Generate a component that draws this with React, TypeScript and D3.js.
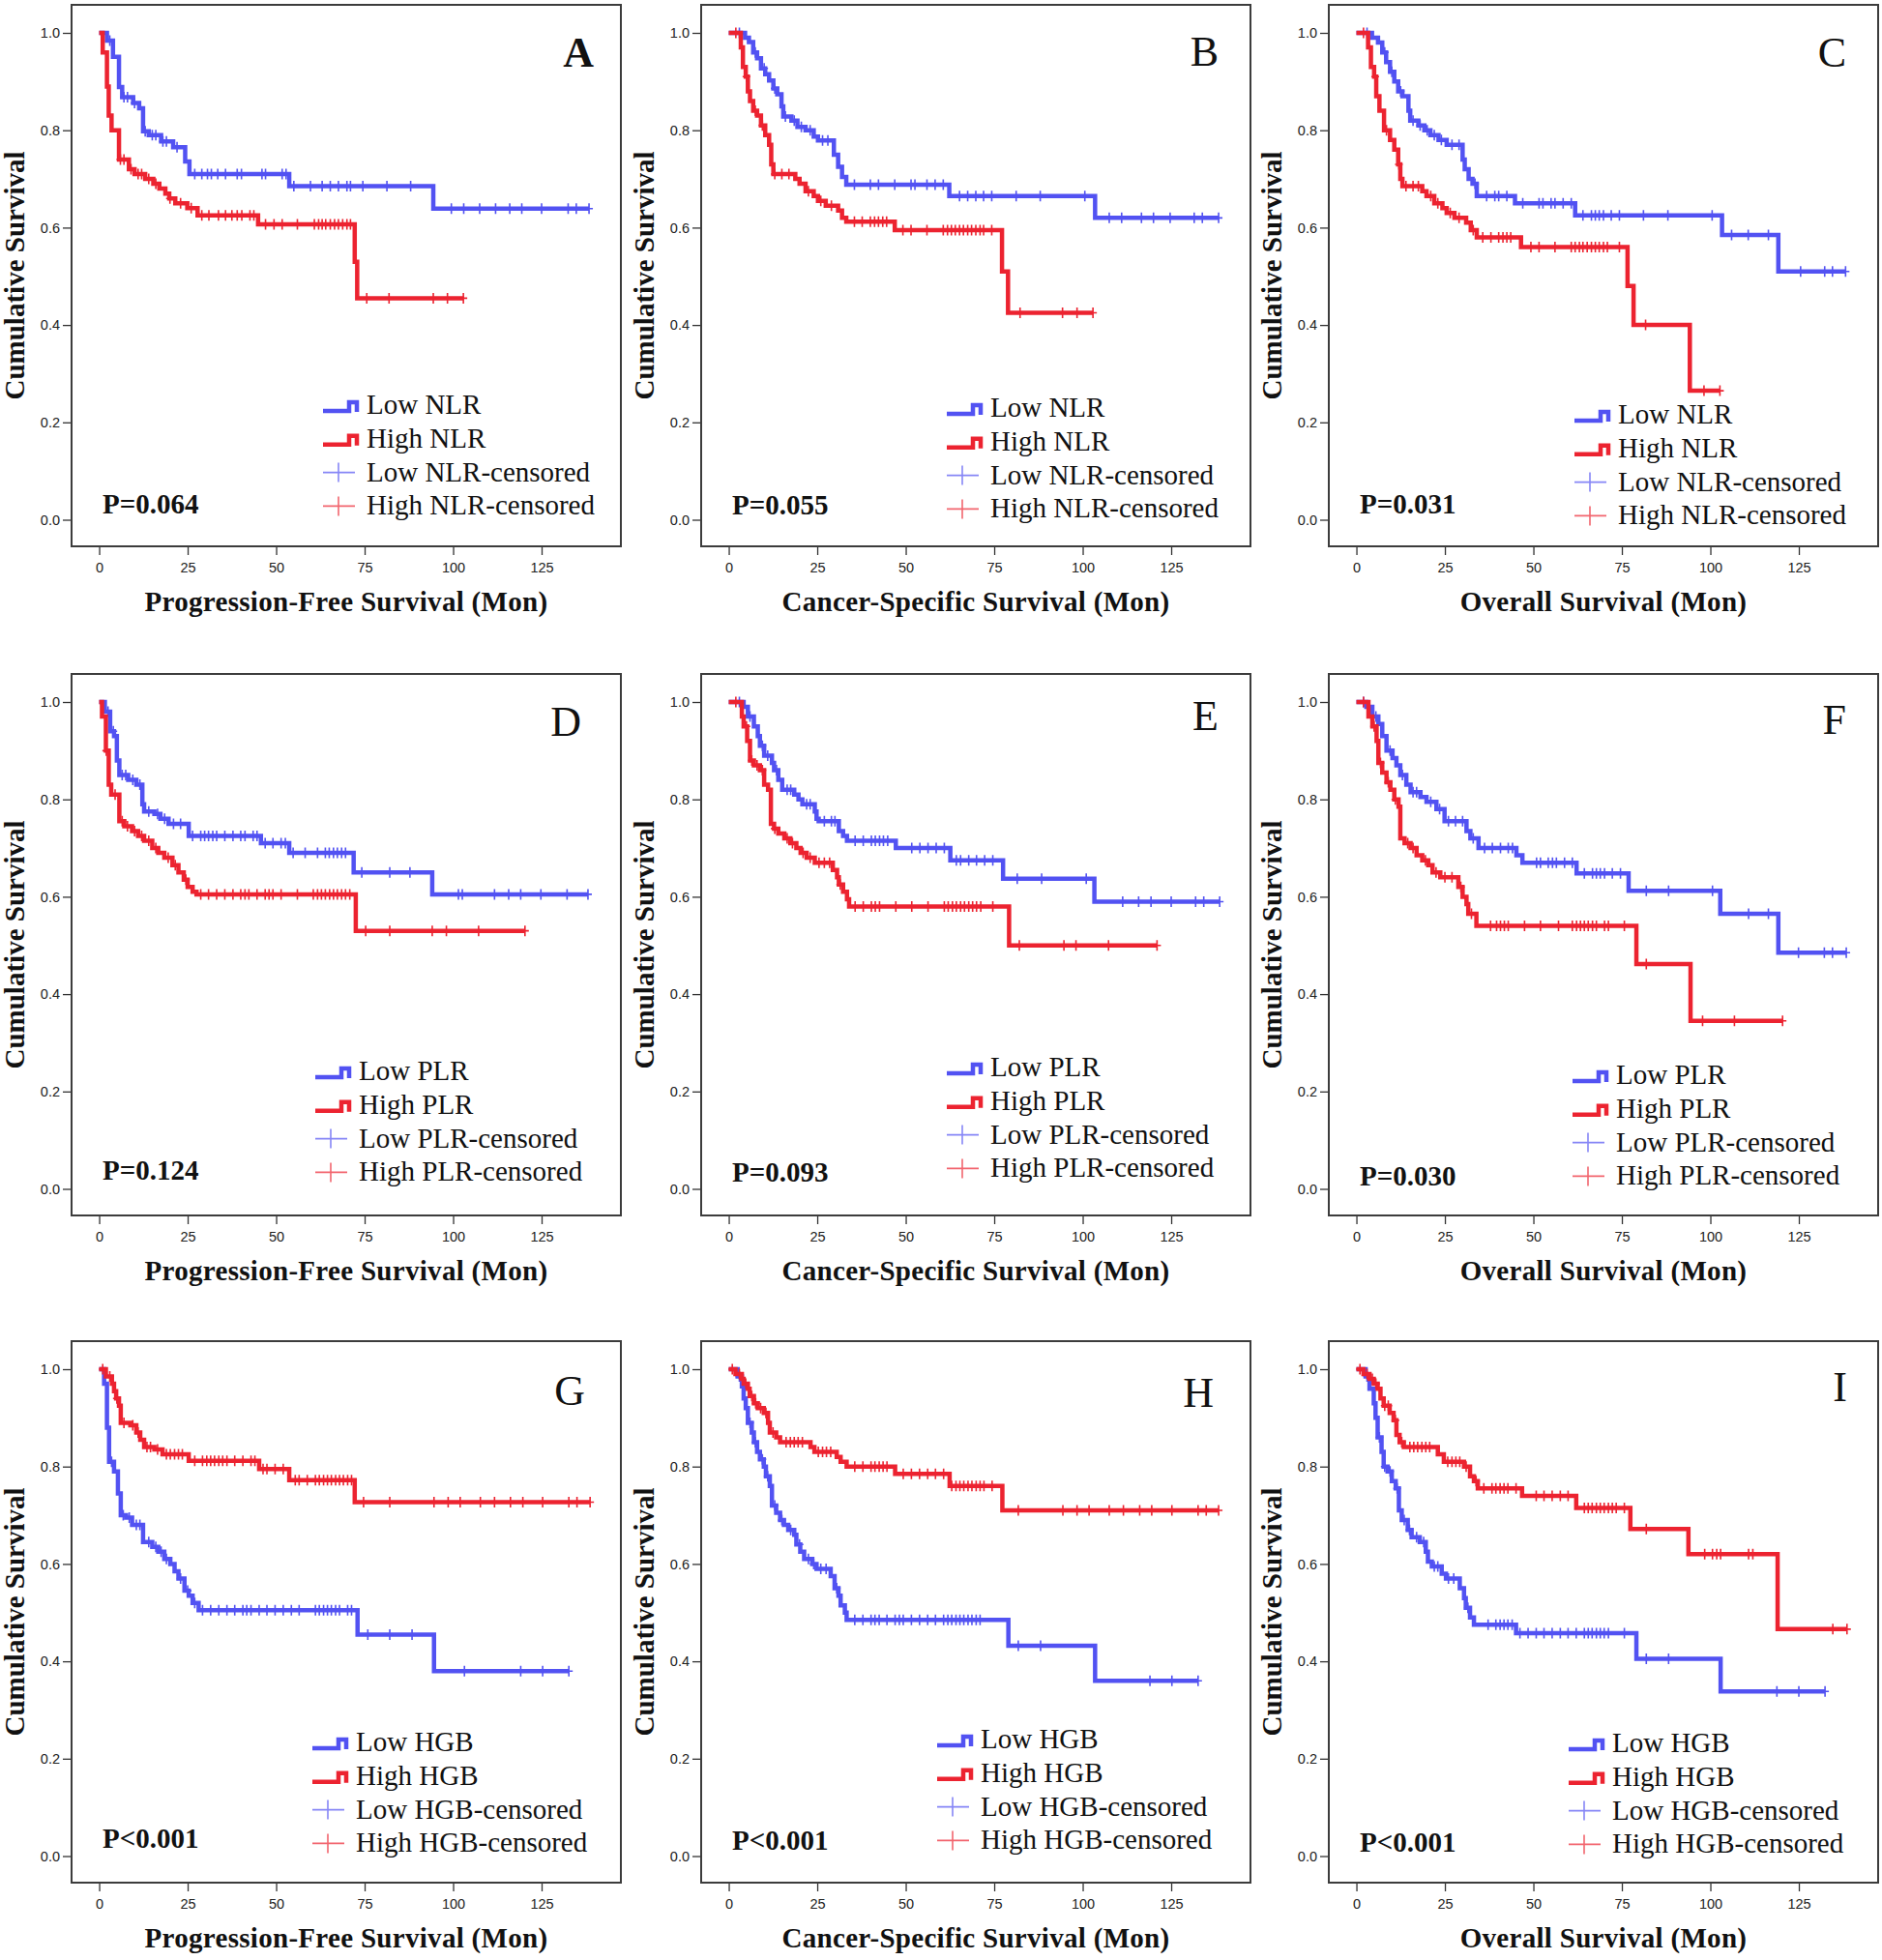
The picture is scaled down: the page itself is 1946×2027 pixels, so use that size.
import * as d3 from 'd3';
import React, { useEffect, useRef } from 'react';

type Step = [number, number];

const WIDTH = 1946;
const HEIGHT = 2027;
const COL_X = [74, 725, 1374];
const ROW_Y = [5, 697, 1387];
const PLOT_W = 568;
const PLOT_H = 560;
const BLUE = '#5252f2';
const RED = '#ec2330';
const SERIF = '"Liberation Serif", "Times New Roman", serif';
const SANS = '"Liberation Sans", Arial, sans-serif';

// small per-panel layout nudges (legend / p-value / letter)
const LEGEND_DX = [2, -4, -4, -6, -4, -6, -9, -14, -10];
const LEGEND_DY = [3, 6, 13, 0, -4, 4, 4, 1, 5];
const P_DY = [3, 4, 3, 0, 2, 6, 1, 3, 5];
const LETTER_DX = [-28, -33, -33, -41, -33, -33, -37, -38, -32];
const LETTER_Y = [64, 63, 64, 64, 58, 62, 66, 68, 62];

const X_TITLES = ['Progression-Free Survival (Mon)', 'Cancer-Specific Survival (Mon)', 'Overall Survival (Mon)'];
const MARKERS = ['NLR', 'PLR', 'HGB'];
const LETTERS = ['A', 'B', 'C', 'D', 'E', 'F', 'G', 'H', 'I'];
const P_VALUES = ['P=0.064', 'P=0.055', 'P=0.031', 'P=0.124', 'P=0.093', 'P=0.030', 'P<0.001', 'P<0.001', 'P<0.001'];
const X_TICKS = [0, 25, 50, 75, 100, 125];
const Y_TICKS = [0, 0.2, 0.4, 0.6, 0.8, 1.0];

// step curves: [month, survival after the drop]; censored: months (last one = end of follow-up)
const aLow: Step[] = [[0, 1], [2.2, 0.984], [3.9, 0.951], [5.6, 0.889], [6.5, 0.868], [9.6, 0.856], [11.3, 0.845], [12.4, 0.798], [14, 0.79], [17.5, 0.777], [20.9, 0.765], [24.3, 0.736], [25.5, 0.71], [53.7, 0.685], [94.4, 0.639]];
const aLowCens = [3, 7, 8, 10, 13, 15, 16, 18, 19, 22, 27, 29, 30.6, 31.7, 33.5, 35.7, 39, 40.2, 46, 47, 51.7, 52.8, 55, 59.7, 63, 65.3, 67.6, 70, 71, 74.5, 81.3, 88, 99.5, 103, 107.5, 112, 116, 119.4, 125, 132.5, 134.8, 138.4];
const aHigh: Step[] = [[0, 1], [1, 0.96], [2.2, 0.89], [2.7, 0.83], [3.5, 0.8], [5.6, 0.74], [8.4, 0.72], [10, 0.71], [13, 0.7], [15.3, 0.69], [17, 0.68], [18.7, 0.67], [19.8, 0.66], [21.5, 0.65], [24.9, 0.64], [27.8, 0.625], [44.9, 0.607], [72.2, 0.53], [72.9, 0.455]];
const aHighCens = [6, 7, 9, 11, 12, 14, 16, 20, 23, 26, 29, 31, 33.7, 35.7, 37.5, 39, 40.3, 42.6, 43.7, 47, 49.4, 51.7, 56, 60.8, 62, 63, 64, 65.3, 66.5, 67.6, 68.8, 70, 71, 75.6, 81.9, 94.4, 98.4, 102.9];

const bLow: Step[] = [[0, 1], [4.6, 0.99], [5.7, 0.981], [6.9, 0.96], [8, 0.948], [9.1, 0.927], [10.3, 0.915], [11.4, 0.902], [12.6, 0.886], [13.7, 0.874], [14.9, 0.849], [15.4, 0.828], [17.7, 0.82], [19.4, 0.807], [21.7, 0.8], [24, 0.787], [25.2, 0.779], [29.7, 0.75], [30.9, 0.725], [32, 0.704], [33.2, 0.688], [62.3, 0.665], [103.5, 0.62]];
const bLowCens = [3, 7.5, 10, 13, 16, 18.5, 20.5, 23, 26.5, 28, 35.5, 40, 42.3, 46.9, 51.5, 52.6, 56, 58.3, 60.6, 65.2, 67.5, 69.8, 72, 74.3, 81.2, 88, 100.6, 107.5, 111, 116.6, 120, 124.7, 131.5, 133.8, 138.4];
const bHigh: Step[] = [[0, 1], [3.4, 0.97], [4, 0.93], [4.8, 0.91], [5.4, 0.88], [6, 0.86], [6.9, 0.84], [8, 0.83], [9.1, 0.81], [10.3, 0.79], [11.4, 0.77], [12, 0.73], [12.6, 0.71], [18.8, 0.7], [20, 0.69], [21.7, 0.675], [24, 0.665], [25.2, 0.655], [27.4, 0.645], [30.9, 0.635], [32, 0.62], [33.2, 0.612], [46.9, 0.595], [77.2, 0.51], [78.9, 0.425]];
const bHighCens = [2, 5, 7.5, 9.5, 13, 15, 17, 22.5, 26, 29, 35.5, 37.7, 40, 41.2, 42.3, 43.5, 44.6, 49.2, 51.5, 56, 60.6, 61.8, 62.9, 64, 65.2, 66.3, 67.5, 68.6, 69.8, 71, 72, 74.3, 82.3, 94.3, 98.4, 102.9];

const cLow: Step[] = [[0, 1], [4.4, 0.99], [6.1, 0.98], [7.3, 0.96], [8.4, 0.94], [9.5, 0.92], [10.7, 0.9], [11.8, 0.88], [13, 0.87], [14.7, 0.84], [15.2, 0.82], [17.5, 0.81], [19.2, 0.8], [20.9, 0.79], [23.2, 0.78], [25.5, 0.77], [30, 0.74], [30.6, 0.72], [31.7, 0.7], [32.8, 0.69], [34, 0.665], [44.8, 0.65], [61.8, 0.625], [103.3, 0.585], [119.2, 0.51]];
const cLowCens = [3, 8, 10, 12.5, 16, 18, 20, 22, 24, 27, 29, 33.5, 36.8, 39.1, 40.2, 42.5, 47, 51.6, 52.7, 55, 56.1, 58.4, 60.7, 64, 66.4, 67.5, 68.6, 69.8, 72, 74.3, 81.1, 88, 100.5, 106, 110.7, 116.4, 125.5, 132.3, 134.5, 138.2];
const cHigh: Step[] = [[0, 1], [3.3, 0.97], [4.1, 0.93], [5, 0.91], [5.6, 0.87], [6.5, 0.84], [7.8, 0.8], [9.5, 0.78], [10.7, 0.76], [11.8, 0.73], [12.4, 0.7], [13, 0.685], [18.6, 0.675], [19.8, 0.665], [22, 0.65], [24.3, 0.64], [25.5, 0.63], [27.7, 0.62], [31, 0.61], [32.3, 0.595], [34, 0.58], [46.5, 0.56], [76.6, 0.48], [78.3, 0.4], [94.2, 0.265]];
const cHighCens = [2, 5.3, 8.5, 12, 14, 16, 17.5, 21, 23, 26.5, 29, 33, 35.7, 38, 40.2, 41.4, 42.5, 43.6, 49.3, 51.6, 56.1, 60.7, 61.8, 63, 64, 65.2, 66.4, 67.5, 68.6, 69.8, 70.9, 74.3, 81.7, 98.2, 102.7];

const dLow: Step[] = [[0, 1], [1.6, 0.98], [3.1, 0.94], [4.2, 0.93], [5, 0.88], [5.7, 0.85], [8.2, 0.84], [10.5, 0.83], [12.2, 0.79], [12.7, 0.775], [15.6, 0.77], [17.3, 0.76], [19.6, 0.75], [25.3, 0.725], [45.7, 0.71], [53.7, 0.69], [71.9, 0.65], [94.1, 0.605]];
const dLowCens = [2.5, 4, 6.5, 7.5, 9.5, 11.5, 14, 16.5, 18.5, 21, 23, 26.4, 28.7, 29.8, 30.9, 32.1, 33.2, 35.5, 37.8, 40, 41.2, 43.5, 44.6, 46.9, 49.1, 51.4, 52.6, 54.8, 58.2, 61.7, 63.9, 65, 66.2, 67.3, 68.5, 69.6, 74.2, 82.1, 87.8, 101.5, 102.6, 111.7, 115.7, 119.1, 124.8, 132.2, 138.1];
const dHigh: Step[] = [[0, 1], [0.8, 0.97], [1.9, 0.9], [2.7, 0.83], [3.4, 0.81], [5.7, 0.755], [7.1, 0.745], [9.3, 0.735], [11, 0.725], [12.7, 0.715], [15, 0.7], [16.7, 0.69], [18.4, 0.68], [20.7, 0.665], [22.4, 0.65], [23.9, 0.635], [25, 0.62], [26.4, 0.61], [27.5, 0.605], [72.5, 0.53]];
const dHighCens = [2, 4.5, 6.5, 8, 10, 12, 14, 16, 19.5, 21.5, 24.5, 28.7, 30.9, 33.2, 35.5, 37.8, 40, 41.2, 42.3, 44.6, 46.9, 48, 49.1, 51.4, 56, 60.5, 61.7, 62.8, 63.9, 65.1, 66.2, 67.3, 68.5, 69.6, 70.8, 75.3, 82.1, 94.1, 98.1, 107.2, 120.3];

const eLow: Step[] = [[0, 1], [4.2, 0.99], [5.4, 0.97], [7.1, 0.95], [8.2, 0.93], [8.8, 0.91], [10, 0.89], [12.2, 0.875], [12.8, 0.86], [14, 0.84], [15.1, 0.82], [18.5, 0.81], [19.7, 0.8], [20.8, 0.79], [24.3, 0.775], [24.8, 0.76], [25.4, 0.755], [31.1, 0.735], [32.3, 0.725], [33.4, 0.715], [47.2, 0.7], [62.6, 0.675], [77.5, 0.637], [103.3, 0.59]];
const eLowCens = [3, 6, 9.5, 11, 13.5, 16.5, 17.5, 22, 23, 27, 29, 30, 35.7, 38, 40.3, 41.4, 42.6, 43.7, 44.9, 51.7, 54, 56.3, 58.6, 60.9, 64.3, 65.5, 67.8, 70, 72.3, 74.6, 81.5, 88.4, 101, 111.3, 115.8, 119.3, 125, 131.9, 134.2, 138.7];
const eHigh: Step[] = [[0, 1], [3.7, 0.97], [4.2, 0.95], [5.2, 0.92], [6, 0.88], [7.1, 0.87], [8.8, 0.86], [10, 0.83], [11.1, 0.82], [11.9, 0.75], [12.8, 0.74], [14, 0.73], [15.7, 0.72], [17.4, 0.71], [19.1, 0.7], [20.3, 0.69], [22, 0.68], [24.3, 0.67], [29.4, 0.655], [30.6, 0.64], [31.1, 0.625], [32.3, 0.61], [33.4, 0.595], [34, 0.58], [79.2, 0.5]];
const eHighCens = [2, 5, 6.5, 8, 9.5, 13, 16.5, 18, 21, 23, 25.5, 27, 28.5, 31.5, 35.7, 38, 40.3, 41.4, 42.6, 47.2, 51.7, 56.3, 60.9, 62, 63.2, 64.3, 65.5, 66.6, 67.8, 68.9, 70, 71.2, 74.6, 82.1, 94.7, 98.1, 107.3, 121];

const fLow: Step[] = [[0, 1], [2.8, 0.99], [4.5, 0.97], [6.2, 0.955], [7.3, 0.93], [8.5, 0.9], [10.2, 0.885], [11.3, 0.87], [12.4, 0.85], [14.1, 0.83], [15.3, 0.815], [18.1, 0.805], [19.8, 0.795], [22.6, 0.78], [24.9, 0.755], [31.1, 0.735], [32.2, 0.72], [34.5, 0.7], [45.2, 0.685], [46.9, 0.67], [62.2, 0.648], [76.9, 0.612], [102.8, 0.565], [119.2, 0.485]];
const fLowCens = [2, 5.5, 9.5, 13, 16, 17, 21, 23.5, 26, 28, 30, 33, 36.2, 38.4, 40.7, 42.9, 44.1, 50.9, 52, 54.2, 55.4, 56.5, 58.8, 61, 64.4, 66.7, 67.8, 68.9, 70.1, 72.3, 74.6, 81.9, 88.2, 100.6, 110.8, 116.4, 124.9, 132.2, 134.5, 138.4];
const fHigh: Step[] = [[0, 1], [3.4, 0.97], [4.5, 0.95], [5.7, 0.92], [6.2, 0.875], [7.3, 0.855], [8.5, 0.835], [9.6, 0.82], [10.7, 0.8], [11.9, 0.785], [12.4, 0.72], [13.6, 0.71], [15.3, 0.7], [17, 0.685], [18.6, 0.675], [20.3, 0.665], [21.5, 0.65], [23.7, 0.64], [28.8, 0.62], [30, 0.6], [31.1, 0.585], [31.6, 0.565], [33.9, 0.54], [79.1, 0.462], [94.4, 0.345]];
const fHighCens = [2, 5, 6.8, 9, 11, 14.5, 16, 19.5, 22.5, 25, 27, 29.5, 32.5, 37.9, 39.6, 40.7, 41.8, 42.9, 47.5, 52, 57.1, 61, 62.2, 63.3, 64.4, 65.5, 66.7, 67.8, 70.1, 71.2, 75.7, 81.9, 97.8, 106.8, 120.4];

const gLow: Step[] = [[0, 1], [1.4, 0.97], [2.2, 0.88], [2.8, 0.81], [4.2, 0.79], [5.3, 0.745], [6.1, 0.7], [7.6, 0.695], [9.3, 0.68], [12.4, 0.645], [15, 0.635], [16.7, 0.625], [18.4, 0.61], [20.1, 0.6], [21.3, 0.585], [22.4, 0.57], [24.1, 0.545], [25.3, 0.535], [26.4, 0.52], [28.1, 0.505], [73, 0.455], [94.6, 0.38]];
const gLowCens = [3.5, 6.8, 8.5, 10.5, 11.5, 14, 16, 17.5, 19, 23, 25, 27, 29.2, 31.5, 33.8, 36.1, 38.3, 40.6, 41.7, 42.9, 45.2, 47.4, 49.7, 52, 54.3, 56.5, 61.1, 62.2, 63.4, 64.5, 65.6, 66.8, 67.9, 70.2, 71.3, 75.9, 82.1, 88.4, 103.2, 119.1, 125.3, 132.7];
const gHigh: Step[] = [[0, 1], [1.9, 0.985], [3.6, 0.97], [4.2, 0.955], [4.8, 0.94], [5.6, 0.925], [6.1, 0.89], [8.8, 0.885], [10.5, 0.87], [11.6, 0.855], [12.7, 0.84], [15.6, 0.835], [17.9, 0.825], [25.3, 0.812], [45.2, 0.795], [53.7, 0.772], [72.2, 0.727]];
const gHighCens = [1, 3, 5, 7, 9.5, 11, 13.5, 14.5, 16.5, 19, 20.1, 21.3, 22.4, 23.5, 27, 29.2, 30.4, 31.5, 32.6, 33.8, 34.9, 36.1, 38.3, 40.6, 42.9, 44, 46.3, 47.4, 49.7, 52, 55.4, 56.5, 58.8, 61.1, 62.2, 63.4, 64.5, 65.6, 66.8, 67.9, 69, 70.2, 71.3, 74.7, 82.1, 94.6, 98.6, 102, 107.7, 111.7, 116.2, 119.7, 125.3, 132.7, 135, 138.7];

const hLow: Step[] = [[0, 1], [2.5, 0.985], [3.7, 0.965], [4.2, 0.94], [4.8, 0.92], [5.4, 0.89], [6.5, 0.87], [7.1, 0.85], [8, 0.83], [8.8, 0.815], [9.9, 0.8], [10.5, 0.78], [11.6, 0.76], [12.2, 0.72], [13.4, 0.705], [14.5, 0.69], [15.6, 0.68], [16.8, 0.67], [18.5, 0.66], [19.1, 0.64], [20.2, 0.625], [21.3, 0.61], [23.6, 0.6], [24.8, 0.59], [28.8, 0.575], [29.9, 0.55], [31, 0.535], [31.6, 0.515], [32.8, 0.5], [33.3, 0.485], [79, 0.432], [103.5, 0.36]];
const hLowCens = [3, 6, 7.5, 9.5, 11, 13, 15, 17.5, 20, 22.5, 24, 26, 27.5, 30.5, 35.6, 37.9, 40.2, 41.3, 42.5, 44.7, 47, 48.2, 49.3, 51.6, 53.9, 56.2, 58.4, 60.7, 61.9, 63, 64.2, 65.3, 66.4, 67.6, 68.7, 69.9, 71, 81.8, 88.1, 119, 125.2, 132.6];
const hHigh: Step[] = [[0, 1], [1.9, 0.99], [3.7, 0.98], [4.2, 0.97], [5.4, 0.96], [5.9, 0.945], [7.1, 0.93], [8.2, 0.92], [9.9, 0.91], [11.1, 0.89], [11.6, 0.87], [13.4, 0.86], [14.5, 0.85], [23.1, 0.84], [24.2, 0.83], [30.5, 0.82], [31.6, 0.81], [33.3, 0.8], [47, 0.785], [62.4, 0.76], [77.3, 0.71]];
const hHighCens = [1, 3, 4.8, 6.5, 7.6, 9, 10.5, 12.5, 16.2, 17.4, 18.5, 19.6, 20.8, 25.3, 26.5, 27.6, 28.8, 35.6, 37.9, 40.2, 41.3, 42.5, 43.6, 44.7, 49.3, 51.6, 53.9, 56.2, 58.4, 60.7, 63, 64.2, 65.3, 66.4, 67.6, 68.7, 69.9, 71, 72.1, 74.4, 81.8, 94.4, 98.4, 101.8, 107.5, 111.5, 116.1, 119.5, 125.2, 132.6, 134.9, 138.4];

const iLow: Step[] = [[0, 1], [2.6, 0.985], [3.7, 0.96], [4.9, 0.93], [5.4, 0.9], [6, 0.86], [7.1, 0.83], [7.7, 0.8], [8.8, 0.79], [10, 0.77], [11.1, 0.755], [12, 0.71], [12.8, 0.69], [14.5, 0.67], [15.6, 0.655], [17.9, 0.645], [19.6, 0.625], [20.2, 0.605], [21.3, 0.595], [24.1, 0.58], [25.3, 0.57], [29.2, 0.55], [30.4, 0.53], [30.9, 0.51], [32.1, 0.49], [33.2, 0.475], [45.1, 0.458], [79.1, 0.405], [102.9, 0.338]];
const iLowCens = [3, 6.5, 8, 9.5, 11.5, 13.5, 15, 17, 19, 22, 23, 26, 27.5, 31.5, 37.2, 39.4, 40.6, 41.7, 42.8, 44, 46.2, 48.5, 50.8, 53, 55.3, 57.6, 59.8, 62.1, 64.4, 65.5, 66.6, 67.8, 68.9, 70, 71.2, 75.7, 81.9, 88.2, 118.8, 125, 132.4];
const iHigh: Step[] = [[0, 1], [2, 0.99], [3.7, 0.98], [4.9, 0.97], [6, 0.96], [6.8, 0.94], [7.7, 0.925], [9.4, 0.91], [10.5, 0.895], [11.3, 0.865], [12.2, 0.85], [13.4, 0.84], [23, 0.825], [24.7, 0.81], [30.4, 0.8], [32.1, 0.78], [33.2, 0.77], [34.3, 0.755], [46.8, 0.74], [62.1, 0.715], [77.4, 0.672], [93.8, 0.62], [119, 0.466]];
const iHighCens = [1, 3, 4.5, 5.5, 8, 9, 11, 12.8, 15.1, 16.2, 17.3, 18.5, 19.6, 20.7, 25.8, 27, 28.1, 29.2, 31, 33.8, 36, 38.3, 39.4, 40.6, 41.7, 42.8, 45.1, 50.8, 53, 55.3, 57.6, 59.8, 64.4, 65.5, 66.6, 67.8, 68.9, 70, 71.2, 72.3, 73.4, 75.7, 81.9, 98.4, 100.6, 101.8, 102.9, 110.8, 112, 134.6, 138.6];

const LOW_STEPS = [aLow, bLow, cLow, dLow, eLow, fLow, gLow, hLow, iLow];
const LOW_CENS = [aLowCens, bLowCens, cLowCens, dLowCens, eLowCens, fLowCens, gLowCens, hLowCens, iLowCens];
const HIGH_STEPS = [aHigh, bHigh, cHigh, dHigh, eHigh, fHigh, gHigh, hHigh, iHigh];
const HIGH_CENS = [aHighCens, bHighCens, cHighCens, dHighCens, eHighCens, fHighCens, gHighCens, hHighCens, iHighCens];

const levelAt = (steps: Step[], t: number) => {
  let s = steps[0][1];
  steps.forEach(([ti, si]) => {
    if (ti <= t) s = si;
  });
  return s;
};

const App: React.FC = () => {
  const ref = useRef<SVGSVGElement>(null);

  useEffect(() => {
    const svg = d3.select(ref.current);
    svg.selectAll('*').remove();
    svg.append('rect').attr('width', WIDTH).attr('height', HEIGHT).attr('fill', '#fff');

    const x = d3.scaleLinear().domain([-7.8, 147.4]).range([0, PLOT_W]);
    const y = d3.scaleLinear().domain([-0.0546, 1.0576]).range([PLOT_H, 0]);
    const line = d3
      .line<Step>()
      .x(d => x(d[0]))
      .y(d => y(d[1]))
      .curve(d3.curveStepAfter);

    LETTERS.forEach((letter, i) => {
      const col = i % 3;
      const row = Math.floor(i / 3);
      const marker = MARKERS[row];
      const g = svg.append('g').attr('transform', `translate(${COL_X[col]},${ROW_Y[row]})`);

      // axes
      const yAxis = d3.axisLeft(y).tickValues(Y_TICKS).tickFormat(d3.format('.1f')).tickSize(9).tickPadding(3);
      const xAxis = d3.axisBottom(x).tickValues(X_TICKS).tickFormat(d3.format('d')).tickSize(9).tickPadding(8);
      [g.append('g').call(yAxis), g.append('g').attr('transform', `translate(0,${PLOT_H})`).call(xAxis)].forEach(ax => {
        ax.select('.domain').remove();
        ax.attr('font-family', SANS).attr('font-size', 14.5);
        ax.selectAll('line').attr('stroke', '#333').attr('stroke-width', 1.3);
        ax.selectAll('text').attr('fill', '#222');
      });

      // curves, blue below red
      const series = [
        { steps: LOW_STEPS[i], cens: LOW_CENS[i], color: BLUE },
        { steps: HIGH_STEPS[i], cens: HIGH_CENS[i], color: RED },
      ];
      series.forEach(({ steps, cens, color }) => {
        const end = Math.max(cens[cens.length - 1], steps[steps.length - 1][0]);
        const pts: Step[] = [...steps, [end, steps[steps.length - 1][1]]];
        g.append('path')
          .attr('d', line(pts))
          .attr('fill', 'none')
          .attr('stroke', color)
          .attr('stroke-width', 4.5)
          .attr('stroke-linejoin', 'miter');
        g.append('path')
          .attr(
            'd',
            cens
              .map(t => {
                const cx = x(t);
                const cy = y(levelAt(steps, t));
                return `M${cx - 4},${cy}H${cx + 4}M${cx},${cy - 5.5}V${cy + 5.5}`;
              })
              .join(''),
          )
          .attr('fill', 'none')
          .attr('stroke', color)
          .attr('stroke-width', 1.6);
      });

      // frame
      g.append('rect')
        .attr('width', PLOT_W)
        .attr('height', PLOT_H)
        .attr('fill', 'none')
        .attr('stroke', '#3c3c3c')
        .attr('stroke-width', 2);

      // panel letter
      g.append('text')
        .attr('x', PLOT_W + LETTER_DX[i])
        .attr('y', LETTER_Y[i])
        .attr('text-anchor', 'end')
        .attr('font-family', SERIF)
        .attr('font-size', 44)
        .attr('font-weight', letter === 'A' ? 'bold' : 'normal')
        .attr('fill', '#111')
        .text(letter);

      // legend
      const lx = 258 + LEGEND_DX[i];
      const rows = [`Low ${marker}`, `High ${marker}`, `Low ${marker}-censored`, `High ${marker}-censored`];
      rows.forEach((label, k) => {
        const by = 420 + LEGEND_DY[i] + k * 34.8;
        const color = k % 2 === 0 ? BLUE : RED;
        if (k < 2) {
          g.append('path')
            .attr('d', `M${lx},${by - 3}H${lx + 27}V${by - 12}H${lx + 35}V${by - 2}`)
            .attr('fill', 'none')
            .attr('stroke', color)
            .attr('stroke-width', 4.5);
        } else {
          g.append('path')
            .attr('d', `M${lx},${by - 9}H${lx + 33}M${lx + 16},${by - 19}V${by + 1}`)
            .attr('fill', 'none')
            .attr('stroke', color)
            .attr('stroke-width', 1.6)
            .attr('opacity', 0.7);
        }
        g.append('text')
          .attr('x', lx + 45)
          .attr('y', by)
          .attr('font-family', SERIF)
          .attr('font-size', 29)
          .attr('fill', '#111')
          .text(label);
      });

      // p value
      g.append('text')
        .attr('x', 32)
        .attr('y', 523 + P_DY[i])
        .attr('font-family', SERIF)
        .attr('font-size', 29)
        .attr('font-weight', 'bold')
        .attr('fill', '#111')
        .text(P_VALUES[i]);

      // axis titles
      g.append('text')
        .attr('x', PLOT_W / 2)
        .attr('y', PLOT_H + 67)
        .attr('text-anchor', 'middle')
        .attr('font-family', SERIF)
        .attr('font-size', 29)
        .attr('font-weight', 'bold')
        .attr('letter-spacing', 0.3)
        .attr('fill', '#111')
        .text(X_TITLES[col]);
      g.append('text')
        .attr('transform', `translate(-49,${PLOT_H / 2}) rotate(-90)`)
        .attr('text-anchor', 'middle')
        .attr('font-family', SERIF)
        .attr('font-size', 29)
        .attr('font-weight', 'bold')
        .attr('fill', '#111')
        .text('Cumulative Survival');
    });
  }, []);

  return (
    <svg
      ref={ref}
      width={WIDTH}
      height={HEIGHT}
      viewBox={`0 0 ${WIDTH} ${HEIGHT}`}
      style={{ position: 'absolute', left: 0, top: 0, display: 'block' }}
    />
  );
};

export default App;
